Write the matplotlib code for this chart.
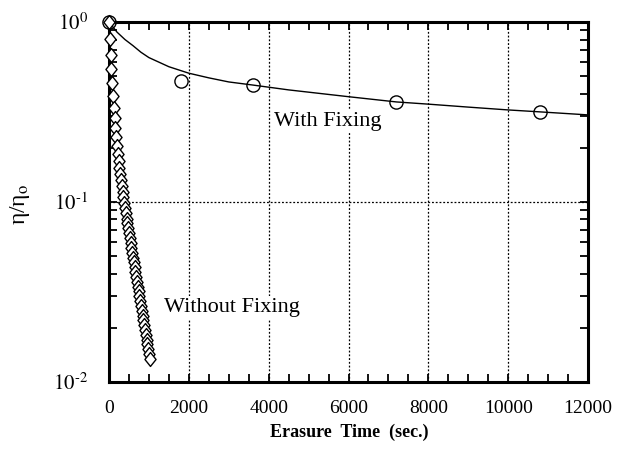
import matplotlib
matplotlib.use("Agg")
import matplotlib.pyplot as plt
from matplotlib.path import Path
from matplotlib.ticker import MultipleLocator, LogLocator, NullFormatter, FixedLocator, FixedFormatter

plt.rcParams['font.family'] = ['Liberation Serif', 'DejaVu Serif']
plt.rcParams['mathtext.fontset'] = 'stix'

# With fixing: measured points
fix_t = [0, 1800, 3600, 7200, 10800]
fix_eta = [1.0, 0.472, 0.450, 0.358, 0.317]

# With fixing: fitted curve
fit_t = [0, 200, 400, 600, 800, 1000, 1500, 2000, 2500, 3000, 3600, 4500,
         6000, 7200, 8000, 9000, 10000, 10800, 12000]
fit_eta = [1.0, 0.88, 0.80, 0.74, 0.68, 0.635, 0.565, 0.52, 0.49, 0.465,
           0.447, 0.42, 0.385, 0.36, 0.35, 0.337, 0.325, 0.317, 0.305]

# Without fixing: measured points
nofix_t = [0, 20, 40, 60, 80, 100, 120, 140, 160, 180, 200, 220, 240, 260,
           280, 300, 320, 340, 360, 380, 400, 420, 440, 460, 480, 500, 520,
           540, 560, 580, 600, 620, 640, 660, 680, 700, 720, 740, 760, 780,
           800, 820, 840, 860, 880, 900, 920, 940, 960, 980, 1000, 1020]
nofix_eta = [1.000, 0.807, 0.660, 0.546, 0.458, 0.389, 0.335, 0.292, 0.257,
             0.229, 0.205, 0.186, 0.169, 0.155, 0.143, 0.132, 0.123, 0.114,
             0.106, 0.099, 0.093, 0.087, 0.081, 0.076, 0.072, 0.067, 0.063,
             0.059, 0.0555, 0.0522, 0.0491, 0.0462, 0.0434, 0.0408, 0.0384,
             0.0361, 0.0339, 0.0319, 0.0300, 0.0282, 0.0265, 0.0249, 0.0234,
             0.0220, 0.0207, 0.0195, 0.0183, 0.0172, 0.0162, 0.0152, 0.0143,
             0.0135]

xticks = [0, 2000, 4000, 6000, 8000, 10000, 12000]
yticks = [0.01, 0.1, 1.0]
ytick_labels = [r'$10^{\text{-}2}$', r'$10^{\text{-}1}$', r'$10^{0}$']

fig = plt.figure(figsize=(6.2, 4.51), dpi=100)
ax = fig.add_axes([0.1758, 0.153, 0.7726, 0.798])

diamond = Path([(0, 1), (0.8, 0), (0, -1), (-0.8, 0), (0, 1)],
               [Path.MOVETO, Path.LINETO, Path.LINETO, Path.LINETO, Path.CLOSEPOLY])

ax.plot(nofix_t, nofix_eta, linestyle='none', marker=diamond, markersize=10,
        markerfacecolor='white', markeredgecolor='black', markeredgewidth=1.0,
        zorder=3, clip_on=False)
ax.plot(fit_t, fit_eta, color='black', linewidth=1.0, zorder=2)
ax.plot(fix_t, fix_eta, linestyle='none', marker='o', markersize=9.5,
        markerfacecolor='none', markeredgecolor='black', markeredgewidth=1.0,
        zorder=4, clip_on=False)

ax.set_yscale('log')
ax.set_xlim(0, 12000)
ax.set_ylim(0.01, 1.0)

ax.xaxis.set_major_locator(FixedLocator(xticks))
ax.xaxis.set_minor_locator(MultipleLocator(500))
ax.yaxis.set_major_locator(FixedLocator(yticks))
ax.yaxis.set_major_formatter(FixedFormatter(ytick_labels))
ax.yaxis.set_minor_locator(LogLocator(base=10, subs=range(2, 10)))
ax.yaxis.set_minor_formatter(NullFormatter())

ax.grid(True, which='major', linestyle=(0, (1.5, 1.5)), color='black', linewidth=0.9)

ax.tick_params(which='both', direction='in', top=True, right=True,
               length=6, width=1.3, colors='black')
ax.tick_params(axis='x', which='major', labelsize=14, pad=13)
ax.tick_params(axis='y', which='major', labelsize=15, pad=15)

for s in ax.spines.values():
    s.set_linewidth(2.2)

fig.text(349 / 620, 1 - 432 / 451, 'Erasure  Time  (sec.)', fontsize=13,
         fontweight='bold', ha='center', va='center')
fig.text(20 / 620, 1 - 204 / 451, r'η/η$_{\mathrm{o}}$', fontsize=17,
         rotation=90, ha='center', va='center')

ax.text(5490, 0.282, 'With Fixing', fontsize=16, ha='center', va='center',
        bbox=dict(facecolor='white', edgecolor='none', pad=1.5), zorder=5)
ax.text(3075, 0.0258, 'Without Fixing', fontsize=16, ha='center', va='center',
        bbox=dict(facecolor='white', edgecolor='none', pad=1.5), zorder=5)

fig.savefig('out.png', dpi=100)
